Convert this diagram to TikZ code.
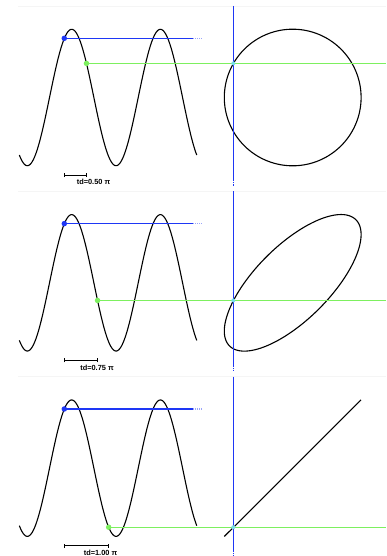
\documentclass[tikz,border=0pt]{standalone}
\usepackage{fontspec}
\setmainfont{Liberation Sans}
\definecolor{sigblue}{RGB}{30,55,245}
\definecolor{siggreen}{RGB}{125,240,95}
\definecolor{sigcyan}{RGB}{120,220,230}
\tikzset{
  wave/.style={black, line width=1.1pt},
  blueline/.style={sigblue, line width=1.1pt},
  greenline/.style={siggreen, line width=1.1pt},
  bluedot/.style={circle, fill=sigblue, inner sep=0pt, minimum size=5.5pt},
  greendot/.style={circle, fill=siggreen, inner sep=0pt, minimum size=5.5pt},
  cyandot/.style={circle, fill=sigcyan, inner sep=0pt, minimum size=4pt},
  framing/.style={black!4, line width=0.5pt},
  lbl/.style={font=\fontsize{7.4}{8}\selectfont\bfseries, inner sep=0pt},
}
\begin{document}
\begin{tikzpicture}[x=1pt,y=-1pt]
\useasboundingbox (0,0) rectangle (386,556);
\fill[white] (0,0) rectangle (386,556);
\foreach \i/\td/\lab in {0/90/0.50, 1/135/0.75, 2/180/1.00}{
  \pgfmathsetmacro{\o}{\i*185.33}
  \pgfmathsetmacro{\gx}{64.3+\td*0.2464}
  \pgfmathsetmacro{\gy}{\o+97.5-68.2*sin(60+\td)}
  % faint panel line
  \draw[framing] (18,\o+6) -- (386,\o+6);
  % sine wave
  \draw[wave] plot[domain=-122.5:597.5, samples=220, variable=\t]
     ({64.3+(\t-60)*0.2464}, {\o+97.5-68.2*sin(\t)});
  % lissajous figure
  \draw[wave] plot[domain=0:360, samples=200, variable=\t]
     ({292.7-68.4*sin(\t)}, {\o+97.5-68.3*sin(\t+\td)});
  % vertical blue line
  \coordinate (vt\i) at (233.3,\o+6);
  \coordinate (vb\i) at (233.3,\o+180);
  \coordinate (vd\i) at (233.3,\o+186);
  \draw[blueline] (vt\i) -- (vb\i);
  \draw[blueline, dash pattern=on 1.2pt off 1pt] (vb\i) -- (vd\i);
  % blue marker and line
  \node[bluedot] (b\i) at (64.3,\o+38.3) {};
  \coordinate (be\i) at (193,\o+38.3);
  \coordinate (bd\i) at (202,\o+38.3);
  \draw[blueline] (b\i.center) -- (be\i);
  \draw[blueline, sigblue!45, dash pattern=on 1pt off 1pt] (be\i) -- (bd\i);
  % green marker and line
  \node[greendot] (g\i) at (\gx,\gy) {};
  \coordinate (ge\i) at (386,\gy);
  \draw[greenline] (g\i.center) -- (ge\i);
  \node[cyandot] (c\i) at (233.3,\gy) {};
  % scale bar
  \coordinate (sa\i) at (64.3,\o+175);
  \coordinate (sb\i) at (\gx,\o+175);
  \draw[black, line width=0.8pt] (sa\i) -- (sb\i);
  \draw[black, line width=0.8pt] ([yshift=-2pt]sa\i) -- ([yshift=2pt]sa\i);
  \draw[black, line width=0.8pt] ([yshift=-2pt]sb\i) -- ([yshift=2pt]sb\i);
}
\node[lbl] (t0) at (93.5,182.3) {td=0.50 π};
\node[lbl] (t1) at (97,185.33+182.5) {td=0.75 π};
\node[lbl] (t2) at (100.5,370.67+181.7) {td=1.00 π};
\end{tikzpicture}
\end{document}
